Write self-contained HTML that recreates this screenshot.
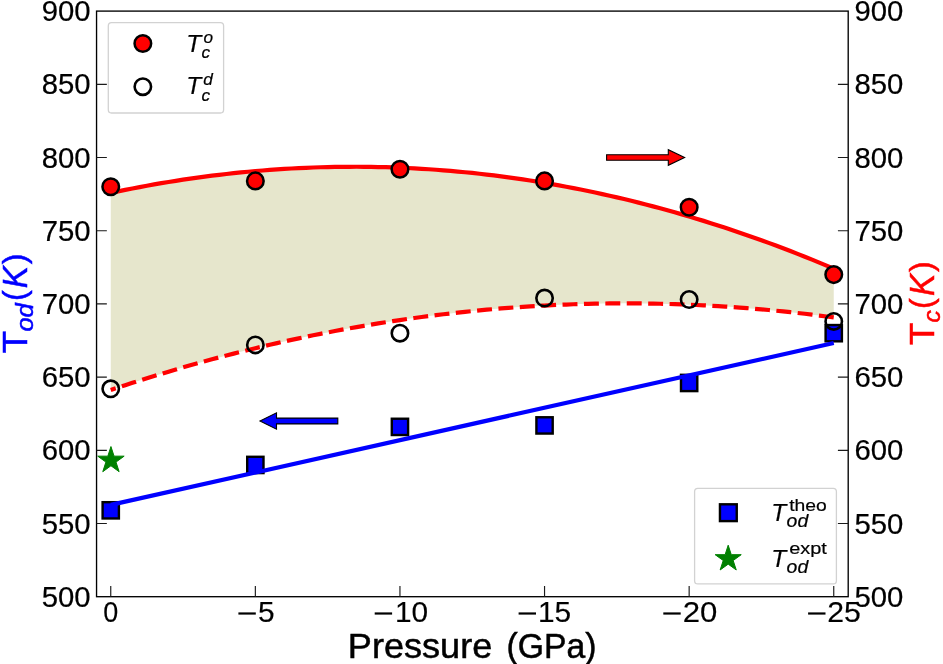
<!DOCTYPE html>
<html><head><meta charset="utf-8"><title>chart</title>
<style>html,body{margin:0;padding:0;background:#fff;}svg{display:block;will-change:transform;}text{font-family:"Liberation Sans",sans-serif;}</style></head><body>
<svg width="943" height="664" viewBox="0 0 943 664">
<rect x="0" y="0" width="943" height="664" fill="#ffffff"/>
<g>
<rect x="102.60" y="502.17" width="16.3" height="16.3" fill="#0000ff" stroke="#000" stroke-width="2.4"/>
<rect x="247.20" y="456.79" width="16.3" height="16.3" fill="#0000ff" stroke="#000" stroke-width="2.4"/>
<rect x="391.80" y="418.73" width="16.3" height="16.3" fill="#0000ff" stroke="#000" stroke-width="2.4"/>
<rect x="536.40" y="417.26" width="16.3" height="16.3" fill="#0000ff" stroke="#000" stroke-width="2.4"/>
<rect x="681.00" y="374.81" width="16.3" height="16.3" fill="#0000ff" stroke="#000" stroke-width="2.4"/>
<rect x="825.60" y="325.03" width="16.3" height="16.3" fill="#0000ff" stroke="#000" stroke-width="2.4"/>
<path d="M110.75,504.89 L833.75,343.01" fill="none" stroke="#0000ff" stroke-width="4.2" stroke-linecap="butt"/>
<polygon points="110.95,446.55 114.07,456.15 124.17,456.15 116.00,462.09 119.12,471.69 110.95,465.76 102.78,471.69 105.90,462.09 97.73,456.15 107.83,456.15" fill="#008000" stroke="#008000" stroke-width="1" stroke-linejoin="miter"/>
<polygon points="337.8,418.12000000000006 276.5,418.12000000000006 276.5,412.82000000000005 260.0,421.02000000000004 276.5,429.22 276.5,423.92 337.8,423.92" fill="#0000ff" stroke="#000" stroke-width="1.1" stroke-linejoin="miter"/>
</g>
<g>
<path d="M110.75,192.95 L117.98,191.42 L125.21,189.93 L132.44,188.49 L139.67,187.09 L146.90,185.75 L154.13,184.44 L161.36,183.19 L168.59,181.98 L175.82,180.81 L183.05,179.70 L190.28,178.63 L197.51,177.60 L204.74,176.62 L211.97,175.69 L219.20,174.81 L226.43,173.97 L233.66,173.17 L240.89,172.43 L248.12,171.73 L255.35,171.07 L262.58,170.47 L269.81,169.90 L277.04,169.39 L284.27,168.92 L291.50,168.50 L298.73,168.12 L305.96,167.79 L313.19,167.51 L320.42,167.27 L327.65,167.08 L334.88,166.93 L342.11,166.83 L349.34,166.78 L356.57,166.77 L363.80,166.81 L371.03,166.90 L378.26,167.03 L385.49,167.21 L392.72,167.43 L399.95,167.71 L407.18,168.02 L414.41,168.39 L421.64,168.80 L428.87,169.25 L436.10,169.76 L443.33,170.31 L450.56,170.90 L457.79,171.54 L465.02,172.23 L472.25,172.96 L479.48,173.74 L486.71,174.57 L493.94,175.44 L501.17,176.36 L508.40,177.33 L515.63,178.34 L522.86,179.40 L530.09,180.50 L537.32,181.65 L544.55,182.85 L551.78,184.09 L559.01,185.38 L566.24,186.72 L573.47,188.10 L580.70,189.53 L587.93,191.00 L595.16,192.52 L602.39,194.09 L609.62,195.70 L616.85,197.36 L624.08,199.07 L631.31,200.82 L638.54,202.62 L645.77,204.46 L653.00,206.35 L660.23,208.29 L667.46,210.27 L674.69,212.30 L681.92,214.38 L689.15,216.50 L696.38,218.67 L703.61,220.88 L710.84,223.14 L718.07,225.45 L725.30,227.80 L732.53,230.20 L739.76,232.65 L746.99,235.14 L754.22,237.68 L761.45,240.27 L768.68,242.90 L775.91,245.57 L783.14,248.30 L790.37,251.07 L797.60,253.88 L804.83,256.75 L812.06,259.66 L819.29,262.61 L826.52,265.61 L833.75,268.66 L833.75,317.44 L826.52,316.48 L819.29,315.55 L812.06,314.66 L804.83,313.79 L797.60,312.97 L790.37,312.18 L783.14,311.42 L775.91,310.69 L768.68,310.00 L761.45,309.35 L754.22,308.72 L746.99,308.14 L739.76,307.58 L732.53,307.06 L725.30,306.58 L718.07,306.13 L710.84,305.71 L703.61,305.33 L696.38,304.98 L689.15,304.66 L681.92,304.38 L674.69,304.14 L667.46,303.92 L660.23,303.75 L653.00,303.60 L645.77,303.49 L638.54,303.41 L631.31,303.37 L624.08,303.37 L616.85,303.39 L609.62,303.45 L602.39,303.55 L595.16,303.68 L587.93,303.84 L580.70,304.03 L573.47,304.27 L566.24,304.53 L559.01,304.83 L551.78,305.16 L544.55,305.53 L537.32,305.93 L530.09,306.37 L522.86,306.84 L515.63,307.34 L508.40,307.88 L501.17,308.45 L493.94,309.06 L486.71,309.70 L479.48,310.37 L472.25,311.08 L465.02,311.83 L457.79,312.60 L450.56,313.41 L443.33,314.26 L436.10,315.14 L428.87,316.05 L421.64,317.00 L414.41,317.98 L407.18,319.00 L399.95,320.05 L392.72,321.13 L385.49,322.25 L378.26,323.40 L371.03,324.59 L363.80,325.81 L356.57,327.06 L349.34,328.35 L342.11,329.67 L334.88,331.03 L327.65,332.42 L320.42,333.85 L313.19,335.30 L305.96,336.80 L298.73,338.33 L291.50,339.89 L284.27,341.48 L277.04,343.11 L269.81,344.78 L262.58,346.47 L255.35,348.21 L248.12,349.97 L240.89,351.77 L233.66,353.61 L226.43,355.48 L219.20,357.38 L211.97,359.32 L204.74,361.29 L197.51,363.29 L190.28,365.33 L183.05,367.40 L175.82,369.51 L168.59,371.65 L161.36,373.83 L154.13,376.04 L146.90,378.28 L139.67,380.56 L132.44,382.87 L125.21,385.22 L117.98,387.60 L110.75,390.01Z" fill="#808000" fill-opacity="0.2" stroke="none"/>
<path d="M110.75,192.95 L117.98,191.42 L125.21,189.93 L132.44,188.49 L139.67,187.09 L146.90,185.75 L154.13,184.44 L161.36,183.19 L168.59,181.98 L175.82,180.81 L183.05,179.70 L190.28,178.63 L197.51,177.60 L204.74,176.62 L211.97,175.69 L219.20,174.81 L226.43,173.97 L233.66,173.17 L240.89,172.43 L248.12,171.73 L255.35,171.07 L262.58,170.47 L269.81,169.90 L277.04,169.39 L284.27,168.92 L291.50,168.50 L298.73,168.12 L305.96,167.79 L313.19,167.51 L320.42,167.27 L327.65,167.08 L334.88,166.93 L342.11,166.83 L349.34,166.78 L356.57,166.77 L363.80,166.81 L371.03,166.90 L378.26,167.03 L385.49,167.21 L392.72,167.43 L399.95,167.71 L407.18,168.02 L414.41,168.39 L421.64,168.80 L428.87,169.25 L436.10,169.76 L443.33,170.31 L450.56,170.90 L457.79,171.54 L465.02,172.23 L472.25,172.96 L479.48,173.74 L486.71,174.57 L493.94,175.44 L501.17,176.36 L508.40,177.33 L515.63,178.34 L522.86,179.40 L530.09,180.50 L537.32,181.65 L544.55,182.85 L551.78,184.09 L559.01,185.38 L566.24,186.72 L573.47,188.10 L580.70,189.53 L587.93,191.00 L595.16,192.52 L602.39,194.09 L609.62,195.70 L616.85,197.36 L624.08,199.07 L631.31,200.82 L638.54,202.62 L645.77,204.46 L653.00,206.35 L660.23,208.29 L667.46,210.27 L674.69,212.30 L681.92,214.38 L689.15,216.50 L696.38,218.67 L703.61,220.88 L710.84,223.14 L718.07,225.45 L725.30,227.80 L732.53,230.20 L739.76,232.65 L746.99,235.14 L754.22,237.68 L761.45,240.27 L768.68,242.90 L775.91,245.57 L783.14,248.30 L790.37,251.07 L797.60,253.88 L804.83,256.75 L812.06,259.66 L819.29,262.61 L826.52,265.61 L833.75,268.66" fill="none" stroke="#ff0000" stroke-width="4.2"/>
<path d="M833.75,317.44 L826.52,316.48 L819.29,315.55 L812.06,314.66 L804.83,313.79 L797.60,312.97 L790.37,312.18 L783.14,311.42 L775.91,310.69 L768.68,310.00 L761.45,309.35 L754.22,308.72 L746.99,308.14 L739.76,307.58 L732.53,307.06 L725.30,306.58 L718.07,306.13 L710.84,305.71 L703.61,305.33 L696.38,304.98 L689.15,304.66 L681.92,304.38 L674.69,304.14 L667.46,303.92 L660.23,303.75 L653.00,303.60 L645.77,303.49 L638.54,303.41 L631.31,303.37 L624.08,303.37 L616.85,303.39 L609.62,303.45 L602.39,303.55 L595.16,303.68 L587.93,303.84 L580.70,304.03 L573.47,304.27 L566.24,304.53 L559.01,304.83 L551.78,305.16 L544.55,305.53 L537.32,305.93 L530.09,306.37 L522.86,306.84 L515.63,307.34 L508.40,307.88 L501.17,308.45 L493.94,309.06 L486.71,309.70 L479.48,310.37 L472.25,311.08 L465.02,311.83 L457.79,312.60 L450.56,313.41 L443.33,314.26 L436.10,315.14 L428.87,316.05 L421.64,317.00 L414.41,317.98 L407.18,319.00 L399.95,320.05 L392.72,321.13 L385.49,322.25 L378.26,323.40 L371.03,324.59 L363.80,325.81 L356.57,327.06 L349.34,328.35 L342.11,329.67 L334.88,331.03 L327.65,332.42 L320.42,333.85 L313.19,335.30 L305.96,336.80 L298.73,338.33 L291.50,339.89 L284.27,341.48 L277.04,343.11 L269.81,344.78 L262.58,346.47 L255.35,348.21 L248.12,349.97 L240.89,351.77 L233.66,353.61 L226.43,355.48 L219.20,357.38 L211.97,359.32 L204.74,361.29 L197.51,363.29 L190.28,365.33 L183.05,367.40 L175.82,369.51 L168.59,371.65 L161.36,373.83 L154.13,376.04 L146.90,378.28 L139.67,380.56 L132.44,382.87 L125.21,385.22 L117.98,387.60 L110.75,390.01" fill="none" stroke="#ff0000" stroke-width="4.2" stroke-dasharray="14.95 6.46"/>
<circle cx="110.75" cy="186.78" r="8.3" fill="#ff0000" stroke="#000" stroke-width="2.5"/>
<circle cx="255.35" cy="180.92" r="8.3" fill="#ff0000" stroke="#000" stroke-width="2.5"/>
<circle cx="399.95" cy="169.21" r="8.3" fill="#ff0000" stroke="#000" stroke-width="2.5"/>
<circle cx="544.55" cy="180.92" r="8.3" fill="#ff0000" stroke="#000" stroke-width="2.5"/>
<circle cx="689.15" cy="207.28" r="8.3" fill="#ff0000" stroke="#000" stroke-width="2.5"/>
<circle cx="833.75" cy="274.62" r="8.3" fill="#ff0000" stroke="#000" stroke-width="2.5"/>
<circle cx="110.75" cy="388.81" r="8.2" fill="none" stroke="#000" stroke-width="2.6"/>
<circle cx="255.35" cy="344.89" r="8.2" fill="none" stroke="#000" stroke-width="2.6"/>
<circle cx="399.95" cy="333.18" r="8.2" fill="none" stroke="#000" stroke-width="2.6"/>
<circle cx="544.55" cy="298.04" r="8.2" fill="none" stroke="#000" stroke-width="2.6"/>
<circle cx="689.15" cy="299.51" r="8.2" fill="none" stroke="#000" stroke-width="2.6"/>
<circle cx="833.75" cy="321.47" r="8.2" fill="none" stroke="#000" stroke-width="2.6"/>
<polygon points="606.6,154.8 668.3,154.8 668.3,149.7 684.6,157.5 668.3,165.3 668.3,160.2 606.6,160.2" fill="#ff0000" stroke="#000" stroke-width="1.1" stroke-linejoin="miter"/>
</g>
<rect x="96.55" y="11.1" width="751.6500000000001" height="585.6" fill="none" stroke="#000" stroke-width="1.35"/>
<path d="M96.55,523.50h10.3 M848.2,523.50h-10.3 M96.55,450.30h10.3 M848.2,450.30h-10.3 M96.55,377.10h10.3 M848.2,377.10h-10.3 M96.55,303.90h10.3 M848.2,303.90h-10.3 M96.55,230.70h10.3 M848.2,230.70h-10.3 M96.55,157.50h10.3 M848.2,157.50h-10.3 M96.55,84.30h10.3 M848.2,84.30h-10.3 M110.75,596.7v-10.8 M255.35,596.7v-10.8 M399.95,596.7v-10.8 M544.55,596.7v-10.8 M689.15,596.7v-10.8 M833.75,596.7v-10.8" stroke="#1a1a1a" stroke-width="1.15" fill="none"/>
<text x="90.6" y="606.70" font-size="28.8" text-anchor="end" textLength="48.9" lengthAdjust="spacingAndGlyphs" stroke="#000" stroke-width="0.2">500</text>
<text x="854.5" y="606.70" font-size="28.8" text-anchor="start" textLength="48.9" lengthAdjust="spacingAndGlyphs" stroke="#000" stroke-width="0.2">500</text>
<text x="90.6" y="533.50" font-size="28.8" text-anchor="end" textLength="48.9" lengthAdjust="spacingAndGlyphs" stroke="#000" stroke-width="0.2">550</text>
<text x="854.5" y="533.50" font-size="28.8" text-anchor="start" textLength="48.9" lengthAdjust="spacingAndGlyphs" stroke="#000" stroke-width="0.2">550</text>
<text x="90.6" y="460.30" font-size="28.8" text-anchor="end" textLength="48.9" lengthAdjust="spacingAndGlyphs" stroke="#000" stroke-width="0.2">600</text>
<text x="854.5" y="460.30" font-size="28.8" text-anchor="start" textLength="48.9" lengthAdjust="spacingAndGlyphs" stroke="#000" stroke-width="0.2">600</text>
<text x="90.6" y="387.10" font-size="28.8" text-anchor="end" textLength="48.9" lengthAdjust="spacingAndGlyphs" stroke="#000" stroke-width="0.2">650</text>
<text x="854.5" y="387.10" font-size="28.8" text-anchor="start" textLength="48.9" lengthAdjust="spacingAndGlyphs" stroke="#000" stroke-width="0.2">650</text>
<text x="90.6" y="313.90" font-size="28.8" text-anchor="end" textLength="48.9" lengthAdjust="spacingAndGlyphs" stroke="#000" stroke-width="0.2">700</text>
<text x="854.5" y="313.90" font-size="28.8" text-anchor="start" textLength="48.9" lengthAdjust="spacingAndGlyphs" stroke="#000" stroke-width="0.2">700</text>
<text x="90.6" y="240.70" font-size="28.8" text-anchor="end" textLength="48.9" lengthAdjust="spacingAndGlyphs" stroke="#000" stroke-width="0.2">750</text>
<text x="854.5" y="240.70" font-size="28.8" text-anchor="start" textLength="48.9" lengthAdjust="spacingAndGlyphs" stroke="#000" stroke-width="0.2">750</text>
<text x="90.6" y="167.50" font-size="28.8" text-anchor="end" textLength="48.9" lengthAdjust="spacingAndGlyphs" stroke="#000" stroke-width="0.2">800</text>
<text x="854.5" y="167.50" font-size="28.8" text-anchor="start" textLength="48.9" lengthAdjust="spacingAndGlyphs" stroke="#000" stroke-width="0.2">800</text>
<text x="90.6" y="94.30" font-size="28.8" text-anchor="end" textLength="48.9" lengthAdjust="spacingAndGlyphs" stroke="#000" stroke-width="0.2">850</text>
<text x="854.5" y="94.30" font-size="28.8" text-anchor="start" textLength="48.9" lengthAdjust="spacingAndGlyphs" stroke="#000" stroke-width="0.2">850</text>
<text x="90.6" y="21.10" font-size="28.8" text-anchor="end" textLength="48.9" lengthAdjust="spacingAndGlyphs" stroke="#000" stroke-width="0.2">900</text>
<text x="854.5" y="21.10" font-size="28.8" text-anchor="start" textLength="48.9" lengthAdjust="spacingAndGlyphs" stroke="#000" stroke-width="0.2">900</text>
<text x="110.75" y="622.0" font-size="28.8" text-anchor="middle" textLength="15.0" lengthAdjust="spacingAndGlyphs" stroke="#000" stroke-width="0.15">0</text>
<rect x="238.40" y="612.4" width="17.4" height="2.2" fill="#000"/>
<text x="274.60" y="622.0" font-size="28.8" text-anchor="end" textLength="16.6" lengthAdjust="spacingAndGlyphs" stroke="#000" stroke-width="0.15">5</text>
<rect x="374.70" y="612.4" width="17.4" height="2.2" fill="#000"/>
<text x="428.20" y="622.0" font-size="28.8" text-anchor="end" textLength="33.2" lengthAdjust="spacingAndGlyphs" stroke="#000" stroke-width="0.15">10</text>
<rect x="518.60" y="612.4" width="17.4" height="2.2" fill="#000"/>
<text x="571.20" y="622.0" font-size="28.8" text-anchor="end" textLength="33.2" lengthAdjust="spacingAndGlyphs" stroke="#000" stroke-width="0.15">15</text>
<rect x="663.30" y="612.4" width="17.4" height="2.2" fill="#000"/>
<text x="717.30" y="622.0" font-size="28.8" text-anchor="end" textLength="34.6" lengthAdjust="spacingAndGlyphs" stroke="#000" stroke-width="0.15">20</text>
<rect x="808.10" y="612.4" width="17.4" height="2.2" fill="#000"/>
<text x="860.90" y="622.0" font-size="28.8" text-anchor="end" textLength="33.6" lengthAdjust="spacingAndGlyphs" stroke="#000" stroke-width="0.15">25</text>
<text x="347.8" y="658.4" font-size="34.6" textLength="144.5" lengthAdjust="spacingAndGlyphs" stroke="#000" stroke-width="0.5">Pressure</text>
<text x="506.6" y="658.4" font-size="34.6" textLength="90.0" lengthAdjust="spacingAndGlyphs" stroke="#000" stroke-width="0.5">(GPa)</text>
<g transform="translate(26.6,352.6) rotate(-90)" fill="#0000ff" stroke="#0000ff" stroke-width="0.5"><text x="-0.7" y="0" font-size="34.6" textLength="22.4" lengthAdjust="spacingAndGlyphs">T</text><text x="21.0" y="6.3" font-size="24.6" font-style="italic" textLength="28.3" lengthAdjust="spacingAndGlyphs">od</text><text x="51.6" y="-2.0" font-size="32.2">(</text><text x="64.4" y="0" font-size="34.6" font-style="italic" textLength="22.2" lengthAdjust="spacingAndGlyphs">K</text><text x="88.4" y="-2.0" font-size="32.2">)</text></g>
<g transform="translate(934.1,344.2) rotate(-90)" fill="#ff0000" stroke="#ff0000" stroke-width="0.5"><text x="-0.7" y="0" font-size="34.6" textLength="22.4" lengthAdjust="spacingAndGlyphs">T</text><text x="21.7" y="6.3" font-size="24.6" font-style="italic">c</text><text x="35.2" y="-2.0" font-size="32.2">(</text><text x="48.3" y="0" font-size="34.6" font-style="italic" textLength="22.2" lengthAdjust="spacingAndGlyphs">K</text><text x="72.2" y="-2.0" font-size="32.2">)</text></g>
<rect x="108.3" y="22.7" width="115.3" height="90.3" rx="3.2" fill="#fff" fill-opacity="0.8" stroke="#d2d2d2" stroke-width="1.3"/>
<circle cx="142.85" cy="43.5" r="8.3" fill="#ff0000" stroke="#000" stroke-width="2.5"/>
<circle cx="142.85" cy="86.7" r="8.2" fill="none" stroke="#000" stroke-width="2.6"/>
<g stroke="#000" stroke-width="0.2">
<text x="186.2" y="51.6" font-size="24.5" font-style="italic">T</text>
<text x="203.4" y="42.8" font-size="17.2" font-style="italic">o</text>
<text x="201.4" y="58.4" font-size="17.2" font-style="italic">c</text>
<text x="186.2" y="94.4" font-size="24.5" font-style="italic">T</text>
<text x="203.2" y="84.8" font-size="17.2" font-style="italic">d</text>
<text x="201.4" y="101.4" font-size="17.2" font-style="italic">c</text>
</g>
<rect x="694.6" y="488.4" width="141.8" height="95.5" rx="3.2" fill="#fff" fill-opacity="0.8" stroke="#d2d2d2" stroke-width="1.3"/>
<rect x="719.95" y="504.3" width="16.8" height="16.8" fill="#0000ff" stroke="#000" stroke-width="2.4"/>
<polygon points="728.20,545.20 731.28,554.67 741.23,554.67 733.18,560.52 736.25,569.98 728.20,564.13 720.15,569.98 723.22,560.52 715.17,554.67 725.12,554.67" fill="#008000" stroke="#008000" stroke-width="1"/>
<g stroke="#000" stroke-width="0.2">
<text x="771.3" y="521.3" font-size="24.5" font-style="italic">T</text>
<text x="789.2" y="511.1" font-size="17.2" textLength="37.6" lengthAdjust="spacingAndGlyphs">theo</text>
<text x="786.6" y="527.2" font-size="18.4" font-style="italic" textLength="21.6" lengthAdjust="spacingAndGlyphs">od</text>
<text x="771.3" y="567.0" font-size="24.5" font-style="italic">T</text>
<text x="789.2" y="553.9" font-size="17.2" textLength="37.6" lengthAdjust="spacingAndGlyphs">expt</text>
<text x="786.6" y="572.7" font-size="18.4" font-style="italic" textLength="21.6" lengthAdjust="spacingAndGlyphs">od</text>
</g>
</svg></body></html>
